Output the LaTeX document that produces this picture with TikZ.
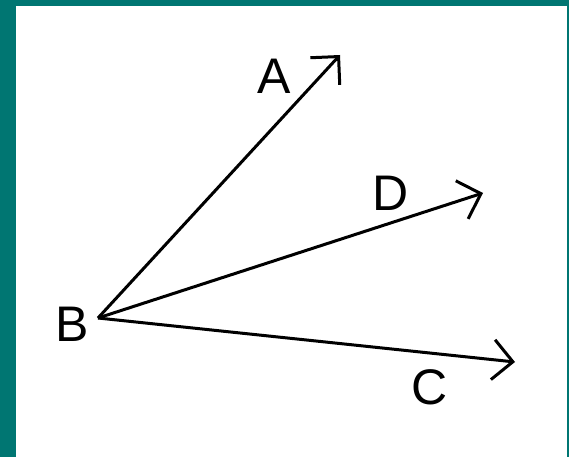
\documentclass[tikz,border=0pt]{standalone}
\usepackage{fontspec}
\setmainfont{Liberation Sans}
\usetikzlibrary{arrows.meta}

\begin{document}
\begin{tikzpicture}[x=1pt,y=-1pt]
\colorlet{frame}{rgb,255:red,0;green,118;blue,114}
\tikzset{lab/.style={inner sep=0pt,font=\fontsize{50}{60}\selectfont},
  ray/.style={line width=3pt,-{Straight Barb[length=20pt,width=40pt,line width=3pt]}}}

% teal frame, white sheet
\useasboundingbox (0,0) rectangle (569,457);
\fill[frame] (0,0) rectangle (569,457);
\fill[white] (16,6) rectangle (567,457);

% vertex and the three ray ends
\coordinate (vB) at (98,318);
\coordinate (tA) at (340,55);
\coordinate (tD) at (483,193);
\coordinate (tC) at (515,362);

\node[lab] (A) at (274.5,76) {A};
\node[lab] (B) at (72.5,324) {B};
\node[lab] (C) at (430,387) {C};
\node[lab] (D) at (390.5,193.5) {D};

\foreach \t in {tA,tD,tC}
  \draw[ray] (vB) -- (\t);
\end{tikzpicture}
\end{document}
